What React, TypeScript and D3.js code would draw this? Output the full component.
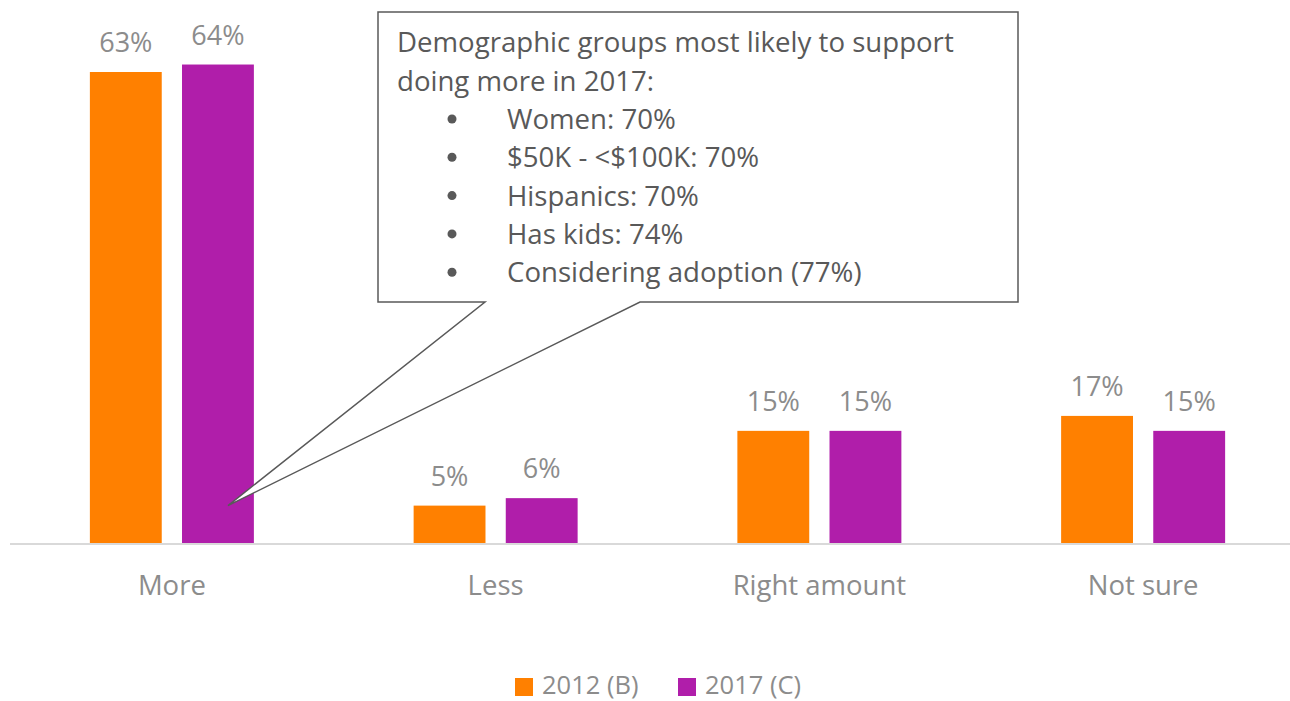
import React from "react";
import * as d3 from "d3";

const categories = ["More", "Less", "Right amount", "Not sure"];
const series = ["2012 (B)", "2017 (C)"];
const values2012 = [63, 5, 15, 17];
const values2017 = [64, 6, 15, 15];
const colors = ["#FF8000", "#B01EAA"];
const calloutTitle = ["Demographic groups most likely to support", "doing more in 2017:"];
const calloutBullets = ["Women: 70%", "$50K - <$100K: 70%", "Hispanics: 70%", "Has kids: 74%", "Considering adoption (77%)"];

const W = 1290;
const H = 701;
const FONT = "'Open Sans', 'Noto Sans', sans-serif";

export default function App() {
  const x = d3.scaleBand<string>().domain(categories).range([10, 1305]).paddingInner(0).paddingOuter(0);
  const x1 = d3.scaleBand<string>().domain(series).range([0, 164]).paddingInner(0.22);
  const y = d3.scaleLinear().domain([0, 63]).range([543, 72]);
  const vals = [values2012, values2017];

  const barX = (ci: number, si: number) => (x(categories[ci]) as number) + x.bandwidth() / 2 - 82 + (x1(series[si]) as number);
  const tipX = barX(0, 1) + x1.bandwidth() / 2 + 10;
  const tipY = y(5);

  return (
    <svg width={W} height={H} style={{ position: "absolute", left: 0, top: 0 }} fontFamily={FONT}>
      <rect width={W} height={H} fill="#fff" />
      {categories.map((c, ci) =>
        series.map((s, si) => {
          const v = vals[si][ci];
          const bx = barX(ci, si);
          return (
            <g key={c + s}>
              <rect x={bx} y={y(v)} width={x1.bandwidth()} height={y(0) - y(v)} fill={colors[si]} />
              <text x={bx + x1.bandwidth() / 2} y={y(v) - 20} textAnchor="middle" fontSize={27} fill="#8c8c8c">
                {v}%
              </text>
            </g>
          );
        })
      )}
      <line x1={10} x2={1290} y1={y(0) + 1} y2={y(0) + 1} stroke="#d9d9d9" strokeWidth={2} />
      {categories.map((c) => (
        <text key={c} x={(x(c) as number) + x.bandwidth() / 2} y={595} textAnchor="middle" fontSize={27.5} fill="#8c8c8c">
          {c}
        </text>
      ))}
      {/* callout */}
      <path
        d={`M378,12 L1018,12 L1018,302 L640,302 L${tipX},${tipY} L485,302 L378,302 Z`}
        fill="#fff"
        stroke="#595959"
        strokeWidth={1.5}
      />
      {calloutTitle.map((t, i) => (
        <text key={t} x={397} y={52 + i * 38.5} fontSize={27.6} fill="#595959">
          {t}
        </text>
      ))}
      {calloutBullets.map((t, i) => (
        <g key={t}>
          <circle cx={452} cy={119 + i * 38.3} r={4.5} fill="#595959" />
          <text x={507} y={129 + i * 38.3} fontSize={27.6} fill="#595959">
            {t}
          </text>
        </g>
      ))}
      {/* legend */}
      {series.map((s, si) => (
        <g key={s} transform={`translate(${515 + si * 163},0)`}>
          <rect x={0} y={678} width={18} height={18} fill={colors[si]} />
          <text x={27} y={694} fontSize={25.5} fill="#8c8c8c">
            {s}
          </text>
        </g>
      ))}
    </svg>
  );
}
